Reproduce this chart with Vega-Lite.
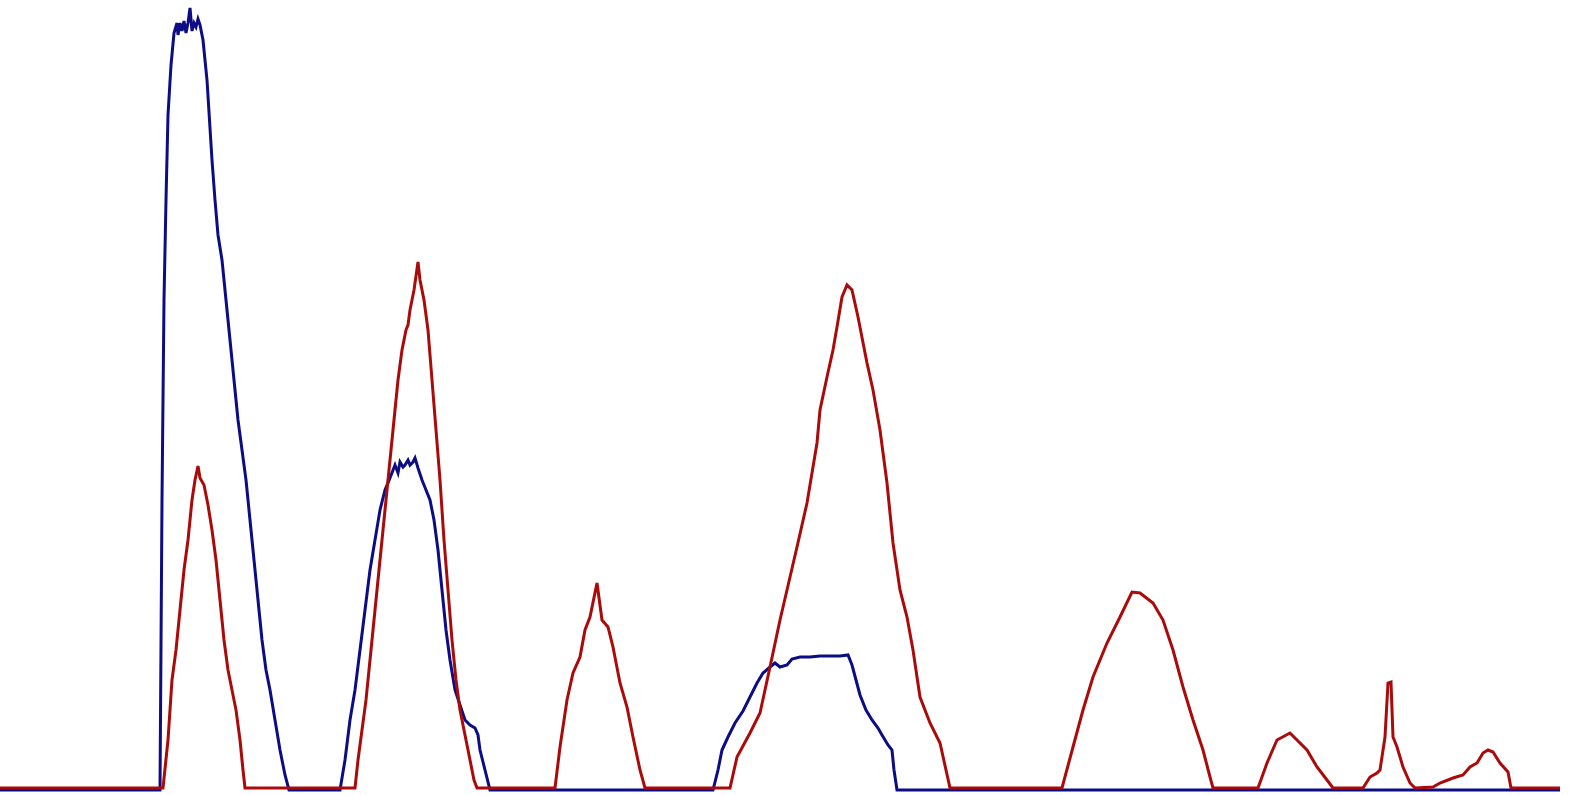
{
  "$schema": "https://vega.github.io/schema/vega-lite/v6.json",
  "autosize": {"type": "none"},
  "width": 1569,
  "height": 795,
  "padding": 0,
  "background": "white",
  "config": {"view": {"stroke": null}},
  "datasets": {
    "blue": [
      {"x":0,"y":5},{"x":160,"y":5},{"x":162,"y":295},{"x":164,"y":495},{"x":166,"y":595},{"x":168,"y":680},{"x":171,"y":730},{"x":174,"y":762},{"x":177,"y":772},{"x":178,"y":760},{"x":180,"y":772},{"x":182,"y":764},{"x":184,"y":774},{"x":186,"y":762},{"x":188,"y":772},{"x":190,"y":787},{"x":192,"y":764},{"x":194,"y":772},{"x":196,"y":768},{"x":198,"y":776},{"x":200,"y":770},{"x":203,"y":755},{"x":207,"y":715},{"x":212,"y":635},{"x":215,"y":595},{"x":218,"y":560},{"x":222,"y":535},{"x":226,"y":495},{"x":230,"y":455},{"x":234,"y":415},{"x":238,"y":375},{"x":242,"y":345},{"x":246,"y":315},{"x":250,"y":275},{"x":254,"y":235},{"x":258,"y":195},{"x":262,"y":155},{"x":266,"y":125},{"x":270,"y":105},{"x":275,"y":75},{"x":280,"y":45},{"x":285,"y":20},{"x":289,"y":5},
      {"x":340,"y":5},{"x":345,"y":35},{"x":350,"y":75},{"x":355,"y":105},{"x":360,"y":145},{"x":365,"y":185},{"x":370,"y":225},{"x":375,"y":255},{"x":380,"y":285},{"x":385,"y":305},{"x":390,"y":317},{"x":395,"y":330},{"x":398,"y":322},{"x":400,"y":333},{"x":403,"y":328},{"x":405,"y":330},{"x":408,"y":335},{"x":410,"y":330},{"x":413,"y":333},{"x":415,"y":337},{"x":418,"y":327},{"x":422,"y":315},{"x":426,"y":305},{"x":430,"y":295},{"x":434,"y":275},{"x":438,"y":245},{"x":442,"y":205},{"x":446,"y":165},{"x":450,"y":135},{"x":455,"y":105},{"x":460,"y":90},{"x":465,"y":75},{"x":470,"y":70},{"x":475,"y":67},{"x":478,"y":60},{"x":480,"y":45},{"x":485,"y":25},{"x":490,"y":5},
      {"x":713,"y":5},{"x":718,"y":25},{"x":722,"y":45},{"x":728,"y":58},{"x":735,"y":72},{"x":743,"y":84},{"x":750,"y":98},{"x":757,"y":112},{"x":763,"y":122},{"x":770,"y":128},{"x":775,"y":132},{"x":780,"y":128},{"x":787,"y":130},{"x":792,"y":136},{"x":800,"y":138},{"x":810,"y":138},{"x":820,"y":139},{"x":830,"y":139},{"x":840,"y":139},{"x":848,"y":140},{"x":852,"y":130},{"x":856,"y":115},{"x":860,"y":100},{"x":866,"y":85},{"x":872,"y":75},{"x":878,"y":67},{"x":882,"y":60},{"x":888,"y":50},{"x":892,"y":45},{"x":894,"y":25},{"x":897,"y":5},
      {"x":1560,"y":5}
    ],
    "red": [
      {"x":0,"y":7},{"x":163,"y":7},{"x":168,"y":55},{"x":172,"y":115},{"x":176,"y":145},{"x":180,"y":185},{"x":184,"y":225},{"x":188,"y":255},{"x":192,"y":295},{"x":195,"y":315},{"x":198,"y":329},{"x":200,"y":317},{"x":204,"y":310},{"x":208,"y":290},{"x":212,"y":265},{"x":216,"y":235},{"x":220,"y":195},{"x":224,"y":155},{"x":228,"y":125},{"x":232,"y":105},{"x":236,"y":85},{"x":240,"y":55},{"x":243,"y":25},{"x":245,"y":7},
      {"x":355,"y":7},{"x":358,"y":35},{"x":362,"y":65},{"x":366,"y":95},{"x":370,"y":135},{"x":374,"y":175},{"x":378,"y":215},{"x":382,"y":255},{"x":386,"y":295},{"x":390,"y":335},{"x":394,"y":375},{"x":398,"y":415},{"x":402,"y":445},{"x":406,"y":465},{"x":408,"y":470},{"x":410,"y":485},{"x":414,"y":505},{"x":418,"y":533},{"x":420,"y":515},{"x":424,"y":495},{"x":428,"y":465},{"x":432,"y":415},{"x":436,"y":365},{"x":440,"y":315},{"x":444,"y":255},{"x":448,"y":205},{"x":452,"y":155},{"x":456,"y":115},{"x":460,"y":85},{"x":466,"y":55},{"x":470,"y":35},{"x":474,"y":15},{"x":477,"y":7},
      {"x":555,"y":7},{"x":560,"y":48},{"x":567,"y":95},{"x":573,"y":122},{"x":580,"y":138},{"x":585,"y":165},{"x":590,"y":178},{"x":597,"y":212},{"x":602,"y":175},{"x":608,"y":168},{"x":613,"y":148},{"x":620,"y":112},{"x":627,"y":88},{"x":633,"y":58},{"x":640,"y":25},{"x":645,"y":7},
      {"x":730,"y":7},{"x":737,"y":38},{"x":750,"y":62},{"x":760,"y":82},{"x":770,"y":128},{"x":780,"y":175},{"x":787,"y":205},{"x":797,"y":248},{"x":807,"y":292},{"x":817,"y":352},{"x":820,"y":385},{"x":827,"y":418},{"x":833,"y":445},{"x":837,"y":468},{"x":842,"y":498},{"x":847,"y":510},{"x":852,"y":505},{"x":858,"y":478},{"x":867,"y":432},{"x":873,"y":405},{"x":880,"y":365},{"x":887,"y":312},{"x":893,"y":252},{"x":900,"y":205},{"x":907,"y":178},{"x":913,"y":145},{"x":920,"y":98},{"x":930,"y":72},{"x":940,"y":52},{"x":950,"y":7},
      {"x":1062,"y":7},{"x":1073,"y":48},{"x":1083,"y":85},{"x":1093,"y":118},{"x":1107,"y":152},{"x":1120,"y":178},{"x":1132,"y":203},{"x":1140,"y":202},{"x":1153,"y":192},{"x":1163,"y":175},{"x":1173,"y":145},{"x":1183,"y":108},{"x":1193,"y":75},{"x":1203,"y":45},{"x":1210,"y":18},{"x":1213,"y":7},
      {"x":1258,"y":7},{"x":1267,"y":32},{"x":1277,"y":55},{"x":1290,"y":62},{"x":1297,"y":55},{"x":1307,"y":45},{"x":1317,"y":28},{"x":1327,"y":15},{"x":1333,"y":7},
      {"x":1363,"y":7},{"x":1370,"y":18},{"x":1377,"y":22},{"x":1380,"y":25},{"x":1385,"y":58},{"x":1388,"y":112},{"x":1391,"y":113},{"x":1393,"y":58},{"x":1397,"y":48},{"x":1403,"y":28},{"x":1410,"y":12},{"x":1415,"y":7},
      {"x":1433,"y":8},{"x":1440,"y":12},{"x":1453,"y":17},{"x":1463,"y":20},{"x":1470,"y":28},{"x":1477,"y":32},{"x":1483,"y":42},{"x":1488,"y":45},{"x":1493,"y":43},{"x":1500,"y":32},{"x":1508,"y":23},{"x":1511,"y":7},
      {"x":1560,"y":7}
    ]
  },
  "layer": [
    {
      "data": {"name": "blue"},
      "mark": {"type": "line", "color": "#0c0c84", "strokeWidth": 3, "strokeJoin": "miter"},
      "encoding": {
        "x": {"field": "x", "type": "quantitative", "scale": {"domain": [0, 1569], "nice": false, "zero": false}, "axis": null},
        "y": {"field": "y", "type": "quantitative", "scale": {"domain": [0, 795], "nice": false, "zero": false}, "axis": null}
      }
    },
    {
      "data": {"name": "red"},
      "mark": {"type": "line", "color": "#aa0a0a", "strokeWidth": 3, "strokeJoin": "miter"},
      "encoding": {
        "x": {"field": "x", "type": "quantitative", "scale": {"domain": [0, 1569], "nice": false, "zero": false}, "axis": null},
        "y": {"field": "y", "type": "quantitative", "scale": {"domain": [0, 795], "nice": false, "zero": false}, "axis": null}
      }
    }
  ]
}
